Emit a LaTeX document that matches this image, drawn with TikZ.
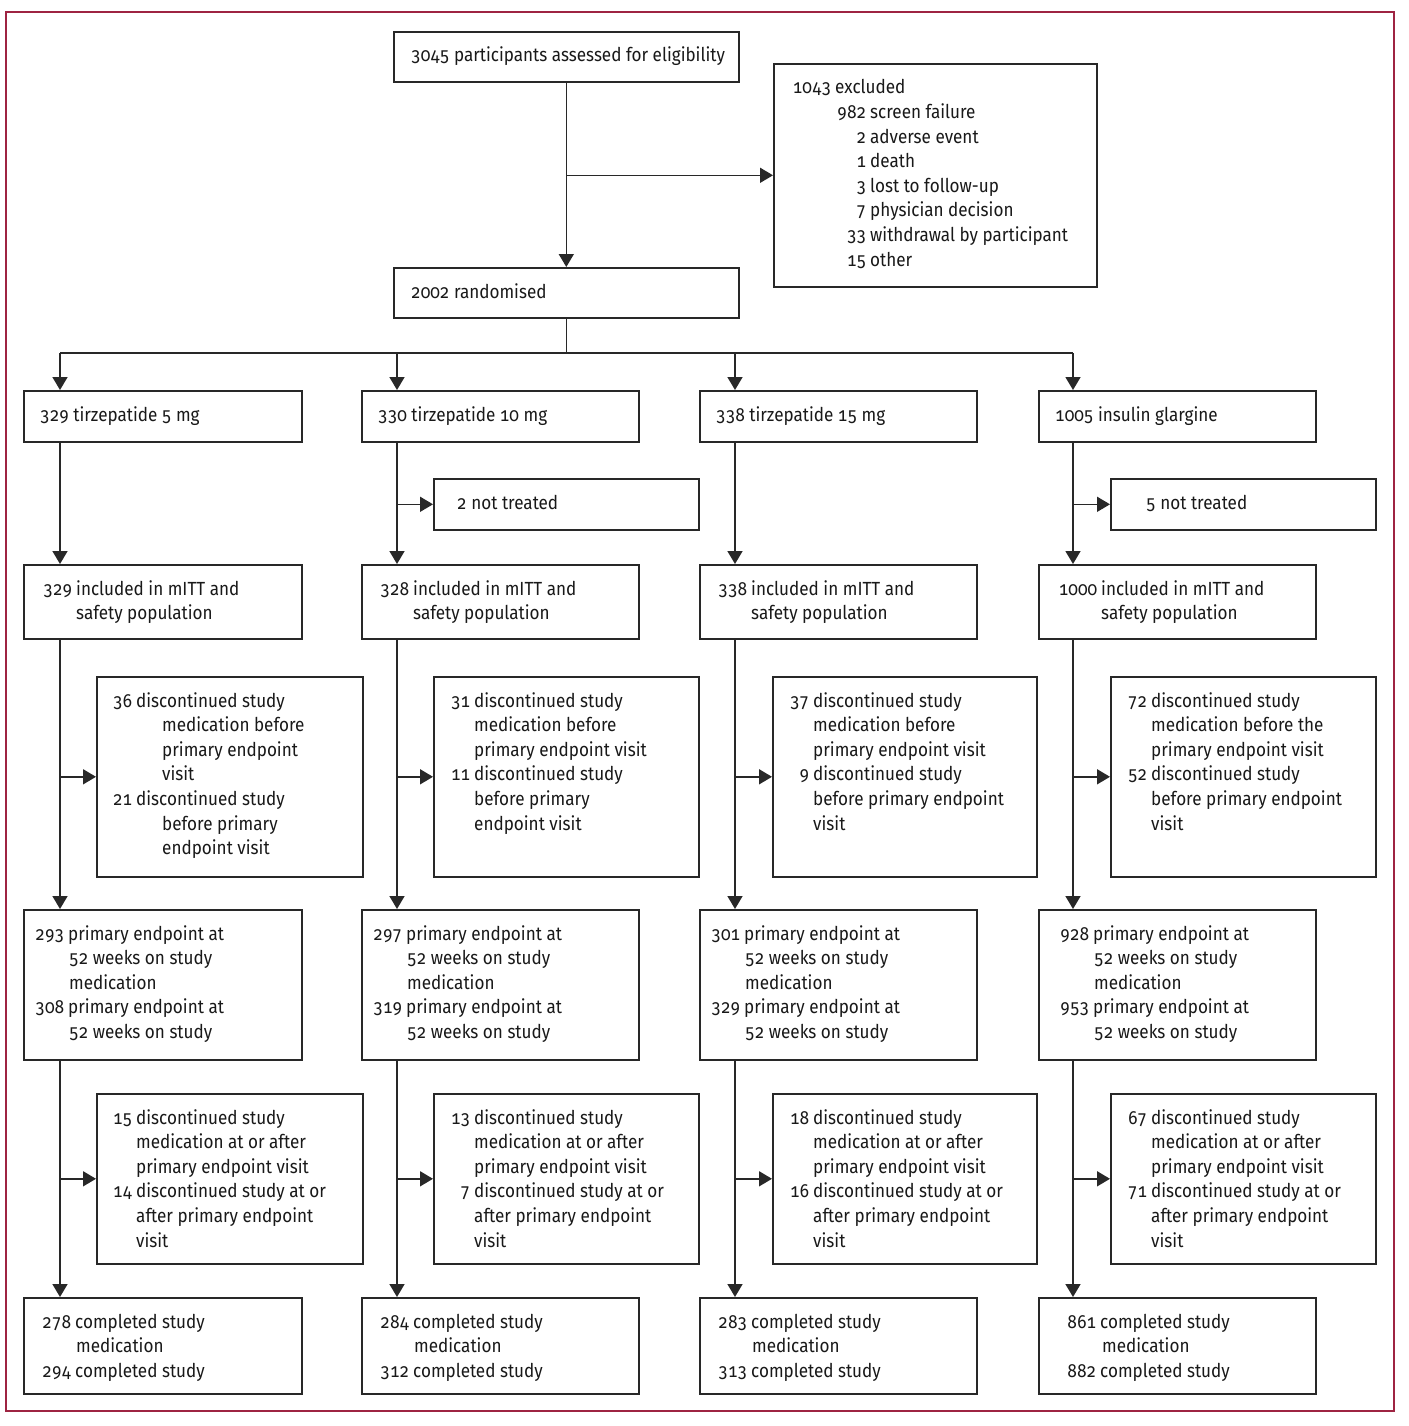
\documentclass[tikz,border=0pt]{standalone}
\usepackage{fontspec}
\setmainfont{Fira Sans}[Numbers={OldStyle,Monospaced}, FakeStretch=0.9]
\usetikzlibrary{arrows.meta,calc}
\definecolor{framecol}{RGB}{158,36,66}
\definecolor{linecol}{RGB}{40,40,40}
\newcommand\nl[3]{\makebox[\dimexpr#1pt-4pt\relax][r]{#2}\hspace{4pt}#3}
\newcommand\il[2]{\hspace*{#1pt}#2}
\newcommand\tb[1]{\begin{tabular}[t]{@{}l@{}}#1\end{tabular}}
\tikzset{
  box/.style={draw=linecol, line width=1.6pt, inner sep=0pt, anchor=north west, rectangle},
  txt/.style={inner sep=0pt, anchor=base west, font=\fontsize{19}{24.6}\selectfont, text=black!90},
  ln/.style={draw=linecol, line width=1.6pt},
  arr/.style={draw=linecol, line width=1.6pt, -{Triangle[width=15pt,length=13pt]}},
}
% \bx{name}{x1}{y1}{x2}{y2}{text}
\newcommand\bx[6]{%
  \node[box, minimum width=#4-#2, minimum height=#5-#3] (#1) at (#2,#3) {};
  \node[txt] (#1t) at ($(#1.north west)+(0,31)$) {\tb{#6}};
}
\begin{document}
\begin{tikzpicture}[x=1pt,y=-1pt]
\useasboundingbox (0,0) rectangle (1408,1426);
\draw[framecol, line width=1.3pt, fill=white] (6,12) rectangle (1394,1411);

% top part
\bx{top}{393}{31}{738}{81}{\il{18}{3045 participants assessed for eligibility}}
\bx{excl}{773}{63}{1096}{286}{\nl{62}{1043}{excluded}\\ \nl{97}{982}{screen failure}\\ \nl{97}{2}{adverse event}\\ \nl{97}{1}{death}\\ \nl{97}{3}{lost to follow-up}\\ \nl{97}{7}{physician decision}\\ \nl{97}{33}{withdrawal by participant}\\ \nl{97}{15}{other}}
\bx{rand}{393}{267}{738}{317}{\il{18}{2002 randomised}}

% arms
\bx{arm1}{23}{390}{301}{441}{\il{17}{329 tirzepatide 5 mg}}
\bx{arm2}{361}{390}{638}{441}{\il{17}{330 tirzepatide 10 mg}}
\bx{arm3}{699}{390}{976}{441}{\il{17}{338 tirzepatide 15 mg}}
\bx{arm4}{1038}{390}{1315}{441}{\il{17}{1005 insulin glargine}}

\bx{nt2}{433}{478}{698}{529}{\il{24}{2 not treated}}
\bx{nt4}{1110}{478}{1375}{529}{\il{36}{5 not treated}}

\bx{mitt1}{23}{564}{301}{638}{\nl{53}{329}{included in mITT and}\\ \il{53}{safety population}}
\bx{mitt2}{361}{564}{638}{638}{\nl{52}{328}{included in mITT and}\\ \il{52}{safety population}}
\bx{mitt3}{699}{564}{976}{638}{\nl{52}{338}{included in mITT and}\\ \il{52}{safety population}}
\bx{mitt4}{1038}{564}{1315}{638}{\nl{63}{1000}{included in mITT and}\\ \il{63}{safety population}}

\bx{da1}{96}{676}{362}{876}{\nl{40}{36}{discontinued study}\\ \il{66}{medication before}\\ \il{66}{primary endpoint}\\ \il{66}{visit}\\ \nl{40}{21}{discontinued study}\\ \il{66}{before primary}\\ \il{66}{endpoint visit}}
\bx{da2}{433}{676}{698}{876}{\nl{41}{31}{discontinued study}\\ \il{41}{medication before}\\ \il{41}{primary endpoint visit}\\ \nl{41}{11}{discontinued study}\\ \il{41}{before primary}\\ \il{41}{endpoint visit}}
\bx{da3}{772}{676}{1036}{876}{\nl{41}{37}{discontinued study}\\ \il{41}{medication before}\\ \il{41}{primary endpoint visit}\\ \nl{41}{9}{discontinued study}\\ \il{41}{before primary endpoint}\\ \il{41}{visit}}
\bx{da4}{1110}{676}{1375}{876}{\nl{41}{72}{discontinued study}\\ \il{41}{medication before the}\\ \il{41}{primary endpoint visit}\\ \nl{41}{52}{discontinued study}\\ \il{41}{before primary endpoint}\\ \il{41}{visit}}

\bx{pri1}{23}{909}{301}{1059}{\nl{45}{293}{primary endpoint at}\\ \il{46}{52 weeks on study}\\ \il{46}{medication}\\ \nl{45}{308}{primary endpoint at}\\ \il{46}{52 weeks on study}}
\bx{pri2}{361}{909}{638}{1059}{\nl{45}{297}{primary endpoint at}\\ \il{46}{52 weeks on study}\\ \il{46}{medication}\\ \nl{45}{319}{primary endpoint at}\\ \il{46}{52 weeks on study}}
\bx{pri3}{699}{909}{976}{1059}{\nl{45}{301}{primary endpoint at}\\ \il{46}{52 weeks on study}\\ \il{46}{medication}\\ \nl{45}{329}{primary endpoint at}\\ \il{46}{52 weeks on study}}
\bx{pri4}{1038}{909}{1315}{1059}{\nl{55}{928}{primary endpoint at}\\ \il{56}{52 weeks on study}\\ \il{56}{medication}\\ \nl{55}{953}{primary endpoint at}\\ \il{56}{52 weeks on study}}

\bx{db1}{96}{1093}{362}{1263}{\nl{40}{15}{discontinued study}\\ \il{40}{medication at or after}\\ \il{40}{primary endpoint visit}\\ \nl{40}{14}{discontinued study at or}\\ \il{40}{after primary endpoint}\\ \il{40}{visit}}
\bx{db2}{433}{1093}{698}{1263}{\nl{41}{13}{discontinued study}\\ \il{41}{medication at or after}\\ \il{41}{primary endpoint visit}\\ \nl{41}{7}{discontinued study at or}\\ \il{41}{after primary endpoint}\\ \il{41}{visit}}
\bx{db3}{772}{1093}{1036}{1263}{\nl{41}{18}{discontinued study}\\ \il{41}{medication at or after}\\ \il{41}{primary endpoint visit}\\ \nl{41}{16}{discontinued study at or}\\ \il{41}{after primary endpoint}\\ \il{41}{visit}}
\bx{db4}{1110}{1093}{1375}{1263}{\nl{41}{67}{discontinued study}\\ \il{41}{medication at or after}\\ \il{41}{primary endpoint visit}\\ \nl{41}{71}{discontinued study at or}\\ \il{41}{after primary endpoint}\\ \il{41}{visit}}

\bx{comp1}{23}{1297}{301}{1393}{\nl{52}{278}{completed study}\\ \il{53}{medication}\\ \nl{52}{294}{completed study}}
\bx{comp2}{361}{1297}{638}{1393}{\nl{52}{284}{completed study}\\ \il{53}{medication}\\ \nl{52}{312}{completed study}}
\bx{comp3}{699}{1297}{976}{1393}{\nl{52}{283}{completed study}\\ \il{53}{medication}\\ \nl{52}{313}{completed study}}
\bx{comp4}{1038}{1297}{1315}{1393}{\nl{62}{861}{completed study}\\ \il{64}{medication}\\ \nl{62}{882}{completed study}}

% connectors top
\draw[arr] (top.south) -- (rand.north);
\coordinate (brk) at (top.south |- excl.west);
\draw[arr] (brk) -- (excl.west);
\coordinate (b1) at (60,353);
\coordinate (b2) at (397,353);
\coordinate (b3) at (735,353);
\coordinate (b4) at (1073,353);
\draw[ln] (rand.south) -- (rand.south |- b1);
\draw[ln] (b1) -- (b4);

\foreach \i in {1,2,3,4}{
  \draw[arr] (b\i) -- (b\i |- arm\i.north);
  \draw[arr] (b\i |- arm\i.south) -- (b\i |- mitt\i.north);
  \draw[arr] (b\i |- mitt\i.south) -- (b\i |- pri\i.north);
  \draw[arr] (b\i |- da\i.west) -- (da\i.west);
  \draw[arr] (b\i |- pri\i.south) -- (b\i |- comp\i.north);
  \draw[arr] (b\i |- db\i.west) -- (db\i.west);
}
\draw[arr] (b2 |- nt2.west) -- (nt2.west);
\draw[arr] (b4 |- nt4.west) -- (nt4.west);
\end{tikzpicture}
\end{document}
